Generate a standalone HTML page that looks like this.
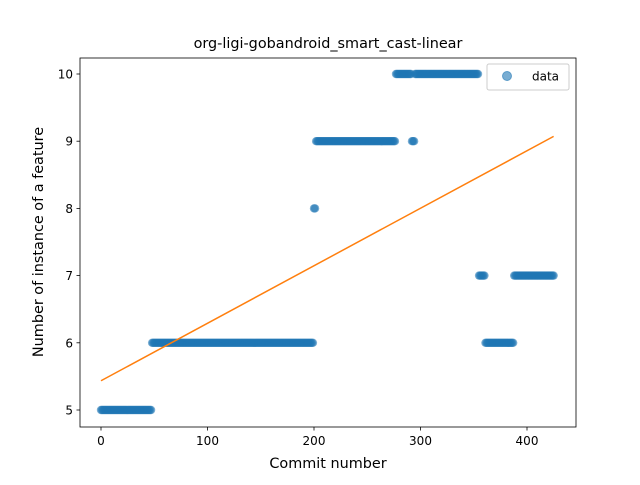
<!DOCTYPE html>
<html><head><meta charset="utf-8"><style>
body{margin:0;background:#fff}
svg text{font-family:"DejaVu Sans","Liberation Sans",sans-serif;fill:#000}
</style></head><body>
<svg id="chart" width="640" height="480">
<rect width="640" height="480" fill="#fff"/>
<text x="328" y="48" font-size="14.4" text-anchor="middle">org-ligi-gobandroid_smart_cast-linear</text>
<g id="marks"></g>
<rect x="80" y="58" width="496" height="369" fill="none" stroke="#000" stroke-width="0.8"/>
<g id="axes"></g>
<text x="328" y="468" font-size="14.4" text-anchor="middle">Commit number</text>
<text transform="translate(43,242) rotate(-90)" font-size="14.4" text-anchor="middle">Number of instance of a feature</text>
<g>
<rect x="487" y="64" width="82" height="26" rx="2" fill="#fff" fill-opacity="0.8" stroke="#ccc"/>
<circle cx="507" cy="76" r="4.5" fill="#1f77b4" fill-opacity="0.6" stroke="#1f77b4" stroke-opacity="0.6"/>
<text x="532" y="80.5" font-size="12">data</text>
</g>
</svg>
<script>
const runStarts=[0,48,200,202,277,292,295,355,361,388];
const runEnds=[47,199,201,276,291,294,354,360,387,425];
const runValues=[5,6,8,9,10,9,10,7,6,7];
const xTicks=[0,100,200,300,400];
const yTicks=[5,6,7,8,9,10];
const xs=[],ys=[];
for(let r=0;r<runStarts.length;r++)for(let i=runStarts[r];i<=runEnds[r];i++){xs.push(i);ys.push(runValues[r]);}
const X=v=>101+v*1.065;
const Y=v=>410-(v-5)*67.2;
const NS="http://www.w3.org/2000/svg";
const marks=document.getElementById('marks'),axes=document.getElementById('axes');
function mk(t,a,p){const e=document.createElementNS(NS,t);for(const k in a)e.setAttribute(k,a[k]);p.appendChild(e);return e;}
for(let i=0;i<xs.length;i++){
const c=mk('circle',{cx:X(xs[i]),cy:Y(ys[i]),r:4.2,fill:'#1f77b4','fill-opacity':0.6},marks);


}
let n=xs.length,sx=0,sy=0,sxx=0,sxy=0;
for(let i=0;i<n;i++){sx+=xs[i];sy+=ys[i];sxx+=xs[i]*xs[i];sxy+=xs[i]*ys[i];}
const b=(n*sxy-sx*sy)/(n*sxx-sx*sx),a=(sy-b*sx)/n;
const x0=xs[0],x1=xs[n-1];
const ln=mk('line',{x1:X(x0),y1:Y(a+b*x0),x2:X(x1),y2:Y(a+b*x1),stroke:'#ff7f0e','stroke-width':1.5},marks);


xTicks.forEach(t=>{
const l=mk('line',{x1:X(t),x2:X(t),y1:427,y2:430.5,stroke:'#000','stroke-width':0.8},axes);


const tx=mk('text',{x:X(t),y:445,'font-size':12,'text-anchor':'middle'},axes);tx.textContent=t;


});
yTicks.forEach(t=>{
const l=mk('line',{x1:76.5,x2:80,y1:Y(t),y2:Y(t),stroke:'#000','stroke-width':0.8},axes);


const tx=mk('text',{x:73,y:Y(t)+4.5,'font-size':12,'text-anchor':'end'},axes);tx.textContent=t;


});
</script>
</body></html>
